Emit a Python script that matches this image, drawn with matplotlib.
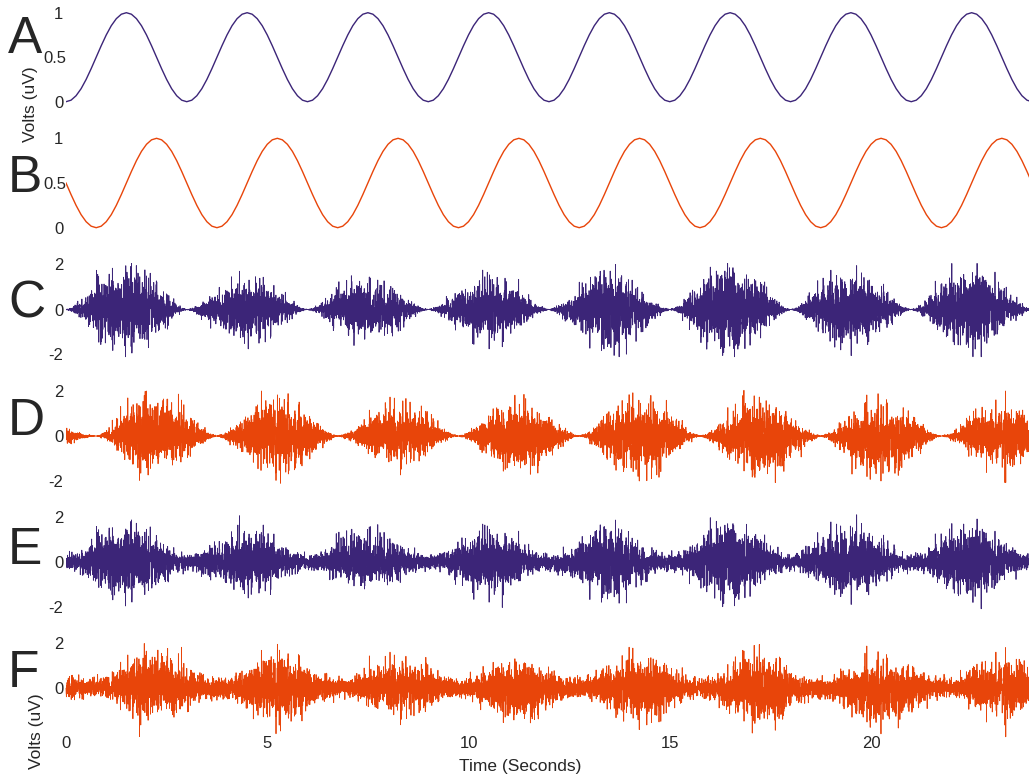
import numpy as np
import matplotlib.pyplot as plt
from matplotlib.transforms import ScaledTranslation

plt.rcParams['font.family'] = ['Liberation Sans', 'DejaVu Sans']
plt.rcParams['axes.unicode_minus'] = False

W, H = 1029, 779
purple = '#3c2578'
orange = '#e8450a'
ink = '#262626'

# time axis (seconds)
t_end = 23.925
step = 0.125          # spacing of the modulator samples
n_cycles = 8          # 3 s per cycle

# one cycle of each slow modulator, sampled every 0.125 s
cycle_a = [0.000, 0.017, 0.067, 0.146, 0.250, 0.371, 0.500, 0.629, 0.750, 0.854, 0.933, 0.983,
           1.000, 0.983, 0.933, 0.854, 0.750, 0.629, 0.500, 0.371, 0.250, 0.146, 0.067, 0.017]
cycle_b = [0.500, 0.371, 0.250, 0.146, 0.067, 0.017, 0.000, 0.017, 0.067, 0.146, 0.250, 0.371,
           0.500, 0.629, 0.750, 0.854, 0.933, 0.983, 1.000, 0.983, 0.933, 0.854, 0.750, 0.629]

# burst boundaries (modulator zeros) and peak heights of each burst, up / down
edges_a = [0, 3, 6, 9, 12, 15, 18, 21, 24]
edges_b = [0, 0.75, 3.75, 6.75, 9.75, 12.75, 15.75, 18.75, 21.75, 24]
c_up = [2.05, 1.70, 1.50, 1.75, 2.00, 2.05, 1.95, 2.05]
c_lo = [2.10, 1.75, 1.60, 1.75, 2.10, 2.10, 2.05, 2.10]
d_up = [0.35, 2.00, 2.00, 1.73, 1.85, 1.92, 2.03, 1.88, 2.00]
d_lo = [0.35, 1.97, 2.10, 1.73, 1.70, 2.00, 2.07, 2.00, 2.07]
e_up = [1.85, 1.80, 1.55, 1.70, 1.85, 1.85, 1.85, 1.85]
e_lo = [1.85, 1.60, 1.30, 1.70, 1.80, 1.85, 1.85, 1.85]
f_up = [0.35, 1.80, 1.80, 1.45, 1.50, 1.65, 1.80, 1.65, 1.80]
f_lo = [0.35, 1.65, 1.80, 1.50, 1.45, 1.60, 1.80, 1.80, 1.75]
e_floor = 0.16        # background noise level in E
f_floor = 0.20        # background noise level in F
shape = 0.75          # burst envelope follows the modulator raised to this power

t_mod = np.arange(n_cycles * len(cycle_a) + 1) * step
a_vals = np.append(np.tile(cycle_a, n_cycles), cycle_a[0])
b_vals = np.append(np.tile(cycle_b, n_cycles), cycle_b[0])

fs = 400
t = np.arange(0, t_end, 1 / fs)
env_a = np.interp(t, t_mod, a_vals) ** shape
env_b = np.interp(t, t_mod, b_vals) ** shape

rng = np.random.default_rng(11)
z_a = np.clip(rng.standard_normal(t.size), -3.4, 3.4)
z_b = np.clip(rng.standard_normal(t.size), -3.4, 3.4)
z_e = np.clip(rng.standard_normal(t.size), -3.4, 3.4)
z_f = np.clip(rng.standard_normal(t.size), -3.4, 3.4)


def bursts(z, env, edges, up, lo):
    # carrier noise under the envelope, each burst scaled to its peak heights
    s = z * env
    out = np.zeros_like(s)
    for i in range(len(up)):
        m = (t >= edges[i]) & (t < edges[i + 1])
        seg = s[m]
        out[m] = np.where(seg > 0, seg * up[i] / seg.max(), seg * lo[i] / -seg.min())
    return out


sig_c = bursts(z_a, env_a, edges_a, c_up, c_lo)
sig_d = bursts(z_b, env_b, edges_b, d_up, d_lo)
sig_e = bursts(z_a, env_a, edges_a, e_up, e_lo) + e_floor * z_e
sig_f = bursts(z_b, env_b, edges_b, f_up, f_lo) + f_floor * z_f

fig = plt.figure(figsize=(W / 100, H / 100), dpi=100)


def panel(zero_px, scale, top_px, bot_px):
    ax = fig.add_axes([66 / W, 1 - bot_px / H, (W - 66) / W, (bot_px - top_px) / H])
    ax.set_xlim(0, t_end)
    ax.set_ylim((zero_px - bot_px) / scale, (zero_px - top_px) / scale)
    for s in ax.spines.values():
        s.set_visible(False)
    ax.tick_params(length=0, labelsize=12, colors=ink, pad=2)
    ax.set_xticks([])
    ax.patch.set_alpha(0)
    return ax


def nudge_half(ax):
    # the "0.5" label sits a little further right than the others
    tick = ax.yaxis.get_major_ticks()[1]
    tick.label1.set_transform(tick.label1.get_transform()
                              + ScaledTranslation(3 / 100, 0, fig.dpi_scale_trans))


ax_a = panel(101.7, 89.0, 0, 120)
ax_a.plot(t_mod, a_vals, color=purple, lw=1.0)
ax_a.set_yticks([0, 0.5, 1], ['0', '0.5', '1'])
nudge_half(ax_a)

ax_b = panel(227.7, 89.4, 120, 246)
ax_b.plot(t_mod, b_vals, color=orange, lw=1.0)
ax_b.set_yticks([0, 0.5, 1], ['0', '0.5', '1'])
nudge_half(ax_b)

ax_c = panel(309.5, 22.5, 246, 373)
ax_c.plot(t, sig_c, color=purple, lw=0.6)
ax_c.set_yticks([-2, 0, 2], ['-2', '0', '2'])

ax_d = panel(436, 22.5, 373, 499)
ax_d.plot(t, sig_d, color=orange, lw=0.6)
ax_d.set_yticks([-2, 0, 2], ['-2', '0', '2'])

ax_e = panel(562, 22.5, 499, 625)
ax_e.plot(t, sig_e, color=purple, lw=0.6)
ax_e.set_yticks([-2, 0, 2], ['-2', '0', '2'])

ax_f = panel(688, 22.5, 625, 733)
ax_f.plot(t, sig_f, color=orange, lw=0.6, clip_on=False)
ax_f.set_yticks([0, 2], ['0', '2'])
ax_f.set_xticks([0, 5, 10, 15, 20], ['0', '5', '10', '15', '20'])
ax_f.tick_params(axis='x', pad=2.5)

letters = ['A', 'B', 'C', 'D', 'E', 'F']
baselines = [53, 192, 317, 435, 564, 687]
for letter, yb in zip(letters, baselines):
    fig.text(8 / W, 1 - yb / H, letter, fontsize=37, color=ink, ha='left', va='baseline')

fig.text(31 / W, 1 - 104 / H, 'Volts (uV)', rotation=90, fontsize=12.5, color=ink,
         ha='center', va='center')
fig.text(37 / W, 1 - 731 / H, 'Volts (uV)', rotation=90, fontsize=12.5, color=ink,
         ha='center', va='center')
fig.text(520 / W, 1 - 766 / H, 'Time (Seconds)', fontsize=12.5, color=ink,
         ha='center', va='center')

fig.savefig('out.png', dpi=100)
